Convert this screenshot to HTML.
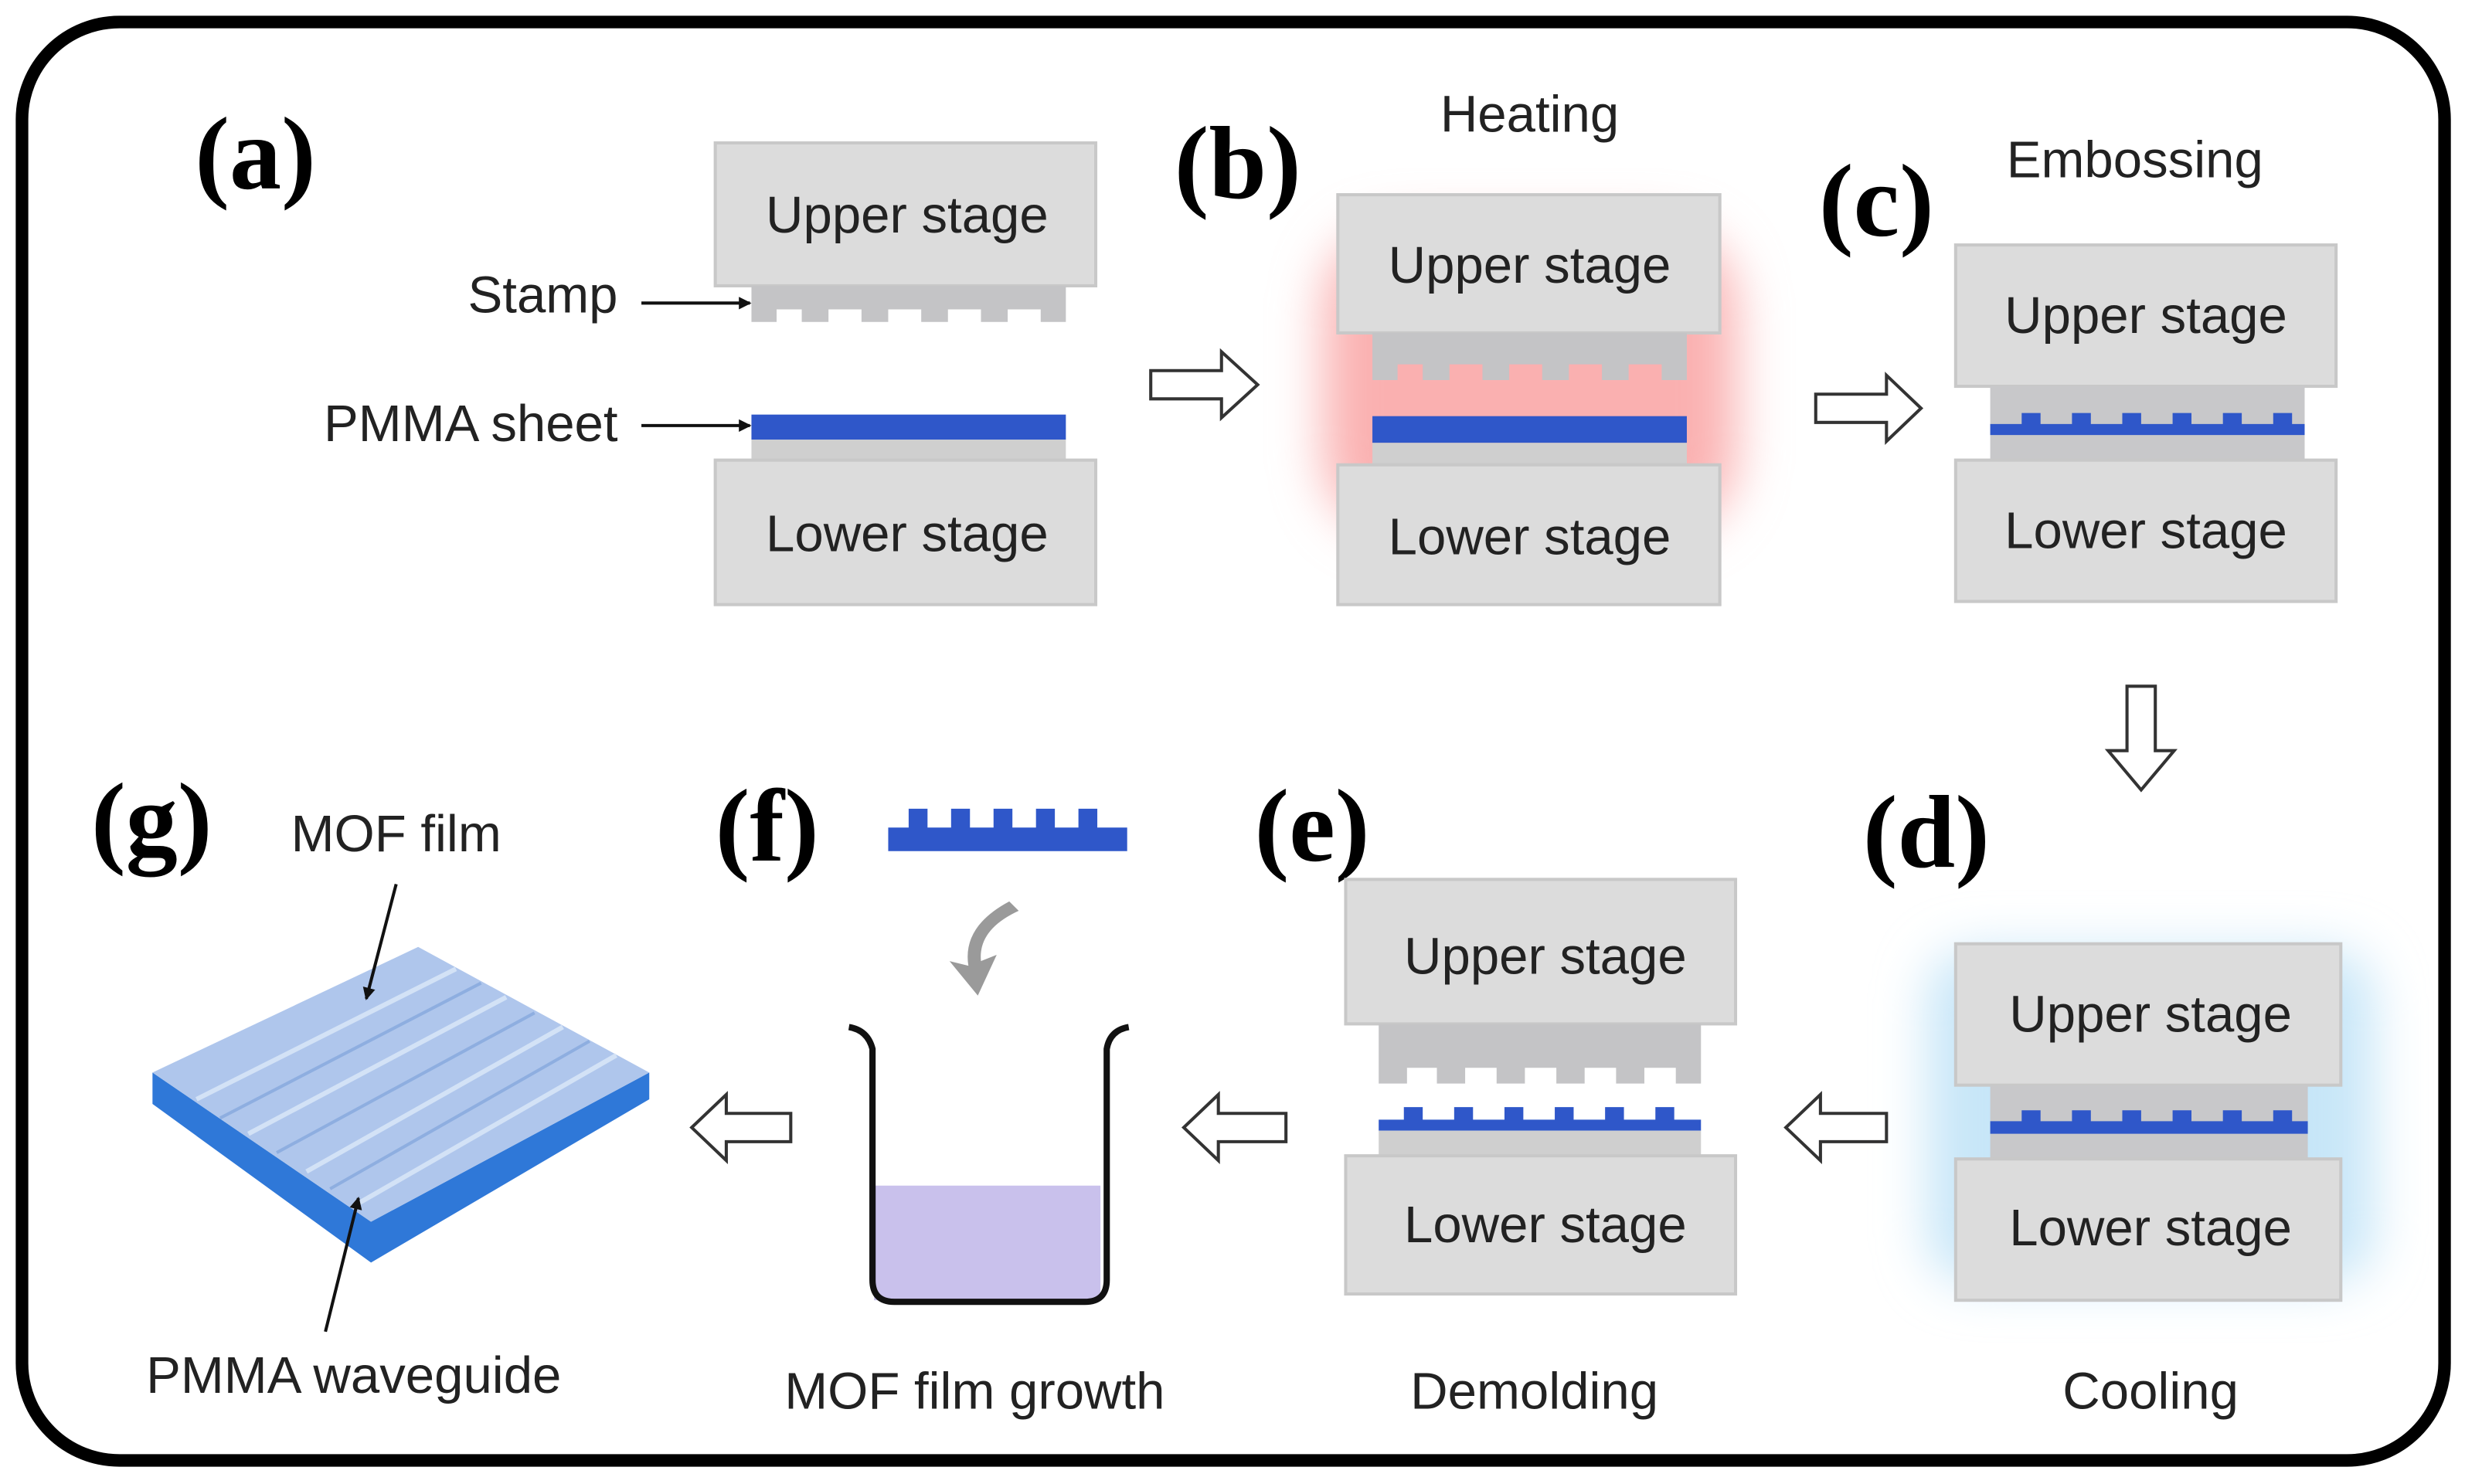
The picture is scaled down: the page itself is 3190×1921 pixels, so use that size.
<!DOCTYPE html>
<html><head><meta charset="utf-8"><style>html,body{margin:0;padding:0;background:#fff}svg{display:block}</style></head>
<body>
<svg width="3190" height="1921" viewBox="0 0 1568 945" preserveAspectRatio="none" xmlns="http://www.w3.org/2000/svg">
<defs>
<filter id="blur" x="-30%" y="-30%" width="160%" height="160%"><feGaussianBlur stdDeviation="16"/></filter>
<marker id="ah" markerWidth="8" markerHeight="8" refX="7" refY="4" orient="auto" markerUnits="userSpaceOnUse"><path d="M0,0 L8,4 L0,8 z" fill="#111"/></marker>
</defs>
<rect x="0" y="0" width="1568" height="945" fill="#fff"/>
<rect x="14" y="14" width="1541" height="916" rx="62" fill="none" stroke="#000" stroke-width="8"/>

<g font-family="Liberation Serif, serif" font-weight="bold" font-size="66" fill="#000">
<text x="124" y="120">(a)</text>
<text x="747" y="126">(b)</text>
<text x="1157" y="150">(c)</text>
<text x="1185" y="552">(d)</text>
<text x="798" y="548">(e)</text>
<text x="455" y="548">(f)</text>
<text x="58" y="544">(g)</text>
</g>

<g font-family="Liberation Sans, sans-serif" font-size="33" fill="#222" text-anchor="middle">
<!-- panel a -->
<rect x="455" y="91" width="242" height="91" fill="#dcdcdc" stroke="#c8c8c8" stroke-width="2"/>
<text x="577" y="148">Upper stage</text>
<path d="M478,182 H678 V205 H662 V197 H641 V205 H624 V197 H603 V205 H586 V197 H565 V205 H548 V197 H527 V205 H510 V197 H494 V205 H478 Z" fill="#c4c4c6"/>
<rect x="478" y="264" width="200" height="16" fill="#2f57c9"/>
<rect x="478" y="280" width="200" height="13" fill="#cfcfcf"/>
<rect x="455" y="293" width="242" height="92" fill="#dcdcdc" stroke="#c8c8c8" stroke-width="2"/>
<text x="577" y="351">Lower stage</text>
<text x="393" y="199" text-anchor="end">Stamp</text>
<text x="393" y="281" text-anchor="end">PMMA sheet</text>
<line x1="408" y1="193" x2="477" y2="193" stroke="#111" stroke-width="2" marker-end="url(#ah)"/>
<line x1="408" y1="271" x2="477" y2="271" stroke="#111" stroke-width="2" marker-end="url(#ah)"/>

<path d="M732,236 H777 V224 L800,245 L777,266 V254 H732 Z" fill="#fff" stroke="#333" stroke-width="2"/>

<!-- panel b -->
<rect x="842" y="145" width="262" height="195" rx="50" fill="#fab0b0" filter="url(#blur)"/>
<text x="973" y="84">Heating</text>
<rect x="851" y="124" width="243" height="88" fill="#dcdcdc" stroke="#c8c8c8" stroke-width="2"/>
<text x="973" y="180">Upper stage</text>
<path d="M873,212 H1073 V242 H1057 V232 H1036 V242 H1019 V232 H998 V242 H981 V232 H960 V242 H943 V232 H922 V242 H905 V232 H889 V242 H873 Z" fill="#c4c4c6"/>
<rect x="873" y="265" width="200" height="17" fill="#2f57c9"/>
<rect x="873" y="282" width="200" height="14" fill="#cfcfcf"/>
<rect x="851" y="296" width="243" height="89" fill="#dcdcdc" stroke="#c8c8c8" stroke-width="2"/>
<text x="973" y="353">Lower stage</text>

<path d="M1155,251 H1200 V239 L1222,260 L1200,281 V269 H1155 Z" fill="#fff" stroke="#333" stroke-width="2"/>

<!-- panel c -->
<text x="1358" y="113">Embossing</text>
<rect x="1244" y="156" width="242" height="90" fill="#dcdcdc" stroke="#c8c8c8" stroke-width="2"/>
<text x="1365" y="212">Upper stage</text>
<rect x="1266" y="246" width="200" height="47" fill="#c8c8ca"/>
<path d="M1266,270 H1286 V263 H1298 V270 H1318 V263 H1330 V270 H1350 V263 H1362 V270 H1382 V263 H1394 V270 H1414 V263 H1426 V270 H1446 V263 H1458 V270 H1466 V277 H1266 Z" fill="#2f57c9"/>
<rect x="1244" y="293" width="242" height="90" fill="#dcdcdc" stroke="#c8c8c8" stroke-width="2"/>
<text x="1365" y="349">Lower stage</text>

<path d="M1353,437 V478 H1341 L1362,503 L1383,478 H1371 V437 Z" fill="#fff" stroke="#333" stroke-width="2"/>

<!-- panel d -->
<rect x="1226" y="605" width="284" height="212" rx="30" fill="#c7e6f8" filter="url(#blur)"/>
<rect x="1244" y="601" width="245" height="90" fill="#dcdcdc" stroke="#c8c8c8" stroke-width="2"/>
<text x="1368" y="657">Upper stage</text>
<rect x="1266" y="691" width="202" height="47" fill="#c8c8ca"/>
<path d="M1266,714 H1286 V707 H1298 V714 H1318 V707 H1330 V714 H1350 V707 H1362 V714 H1382 V707 H1394 V714 H1414 V707 H1426 V714 H1446 V707 H1458 V714 H1468 V722 H1266 Z" fill="#2f57c9"/>
<rect x="1244" y="738" width="245" height="90" fill="#dcdcdc" stroke="#c8c8c8" stroke-width="2"/>
<text x="1368" y="793">Lower stage</text>
<text x="1368" y="897">Cooling</text>

<path d="M1200,709 H1158 V697 L1136,718 L1158,739 V727 H1200 Z" fill="#fff" stroke="#333" stroke-width="2"/>

<!-- panel e -->
<rect x="856" y="560" width="248" height="92" fill="#dcdcdc" stroke="#c8c8c8" stroke-width="2"/>
<text x="983" y="620">Upper stage</text>
<path d="M877,652 H1082 V690 H1066 V680 H1046 V690 H1028 V680 H1008 V690 H990 V680 H970 V690 H952 V680 H932 V690 H914 V680 H895 V690 H877 Z" fill="#c4c4c6"/>
<path d="M877,713 H893 V705 H905 V713 H925 V705 H937 V713 H957 V705 H969 V713 H989 V705 H1001 V713 H1021 V705 H1033 V713 H1053 V705 H1065 V713 H1082 V720 H877 Z" fill="#2f57c9"/>
<rect x="877" y="720" width="205" height="16" fill="#cfcfcf"/>
<rect x="856" y="736" width="248" height="88" fill="#dcdcdc" stroke="#c8c8c8" stroke-width="2"/>
<text x="983" y="791">Lower stage</text>
<text x="976" y="897">Demolding</text>

<path d="M818,709 H775 V697 L753,718 L775,739 V727 H818 Z" fill="#fff" stroke="#333" stroke-width="2"/>

<!-- panel f -->
<path d="M565,527 H578 V515 H590 V527 H605 V515 H617 V527 H632 V515 H644 V527 H659 V515 H671 V527 H686 V515 H698 V527 H717 V542 H565 Z" fill="#2f57c9"/>
<path d="M642,574 Q612,590 616,615 L604,612 L622,634 L634,608 L624,612 Q622,592 648,580 Z" fill="#9a9a9a"/>
<rect x="556" y="755" width="144" height="73" fill="#c9c1ec"/>
<path d="M540,654 Q552,656 555,668 V815 Q555,829 569,829 H690 Q704,829 704,815 V668 Q706,656 718,654" fill="none" stroke="#111" stroke-width="4"/>
<text x="620" y="897">MOF film growth</text>

<path d="M503,709 H462 V697 L440,718 L462,739 V727 H503 Z" fill="#fff" stroke="#333" stroke-width="2"/>

<!-- panel g -->
<polygon points="97,683 236,778 413,683 413,700 236,804 97,703" fill="#2f78d8"/>
<polygon points="97,683 266,603 413,683 236,778" fill="#afc6ec"/>
<g stroke="#d3e2f6" stroke-width="3">
<line x1="125" y1="700" x2="290" y2="617"/>
<line x1="158" y1="722" x2="322" y2="635"/>
<line x1="195" y1="746" x2="358" y2="654"/>
<line x1="225" y1="768" x2="392" y2="672"/>
</g>
<g stroke="#8eaee0" stroke-width="2">
<line x1="140" y1="712" x2="306" y2="626"/>
<line x1="176" y1="734" x2="340" y2="645"/>
<line x1="210" y1="757" x2="375" y2="663"/>
</g>
<text x="252" y="542">MOF film</text>
<text x="225" y="887">PMMA waveguide</text>
<line x1="252" y1="563" x2="233" y2="636" stroke="#111" stroke-width="2" marker-end="url(#ah)"/>
<line x1="207" y1="848" x2="228" y2="763" stroke="#111" stroke-width="2" marker-end="url(#ah)"/>
</g>
</svg>
</body></html>
